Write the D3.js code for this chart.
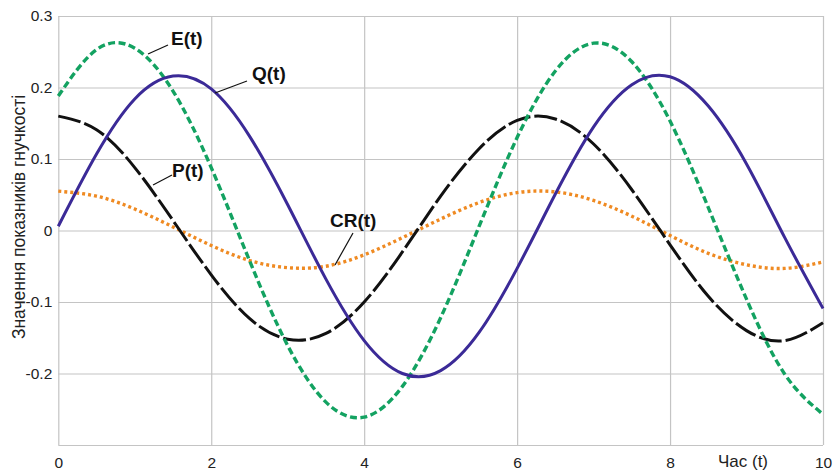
<!DOCTYPE html>
<html>
<head>
<meta charset="utf-8">
<script src="https://cdn.jsdelivr.net/npm/d3@7"></script>
<style>
  html, body { margin: 0; padding: 0; background: #ffffff; }
  svg { display: block; font-family: "Liberation Sans", Arial, sans-serif; }
</style>
</head>
<body>
<svg id="chart" width="837" height="470"></svg>
<script>
// ---- data ----
const tValues = [0,0.5,1,1.5,2,2.5,3,3.5,4,4.5,5,5.5,6,6.5,7,7.5,8,8.5,9,9.5,10];
const eValues = [0.188,0.253,0.255,0.195,0.088,-0.042,-0.161,-0.240,-0.261,-0.218,-0.122,0.005,0.130,0.223,0.262,0.236,0.153,0.032,-0.096,-0.201,-0.257];
const qValues = [0.006,0.107,0.184,0.216,0.198,0.132,0.036,-0.068,-0.154,-0.200,-0.196,-0.143,-0.053,0.051,0.145,0.204,0.215,0.174,0.093,-0.010,-0.109];
const pValues = [0.160,0.141,0.088,0.014,-0.062,-0.123,-0.152,-0.144,-0.100,-0.030,0.048,0.114,0.154,0.156,0.121,0.057,-0.020,-0.092,-0.140,-0.154,-0.129];
const crValues = [0.055,0.048,0.030,0.005,-0.021,-0.042,-0.052,-0.050,-0.034,-0.010,0.016,0.039,0.053,0.054,0.042,0.020,-0.007,-0.032,-0.048,-0.053,-0.044];
const xTicks = [0,2,4,6,8,10];
const yTicks = [-0.2,-0.1,0,0.1,0.2,0.3];
const yGrid = [-0.3,-0.2,-0.1,0,0.1,0.2,0.3];
const seriesNames = ["E(t)","Q(t)","P(t)","CR(t)"];
const xTitle = "Час (t)";
const yTitle = "Значення показників гнучкості";

// ---- layout ----
const svg = d3.select("#chart");
const W = 837, H = 470;
const m = {left: 58.3, right: 837-823, top: 16, bottom: 470-445};
const x = d3.scaleLinear().domain([0,10]).range([m.left, W-m.right]);
const y = d3.scaleLinear().domain([-0.3,0.3]).range([H-m.bottom, m.top]);
const gridColor = "#c4c4c4";

// grid
svg.append("g").attr("transform", `translate(0,${H-m.bottom})`)
  .call(d3.axisBottom(x).tickValues(xTicks).tickSize(-(H-m.bottom-m.top)).tickFormat(""))
  .call(g => g.select(".domain").remove())
  .call(g => g.selectAll("line").attr("stroke", gridColor).attr("stroke-width", 1.2));
svg.append("g").attr("transform", `translate(${m.left},0)`)
  .call(d3.axisLeft(y).tickValues(yGrid).tickSize(-(W-m.right-m.left)).tickFormat(""))
  .call(g => g.select(".domain").remove())
  .call(g => g.selectAll("line").attr("stroke", gridColor).attr("stroke-width", 1.2));

// tick labels
svg.append("g").attr("transform", `translate(${m.left},0)`)
  .call(d3.axisLeft(y).tickValues(yTicks).tickSize(0).tickPadding(6).tickFormat(d => d === 0 ? "0" : d3.format(".1f")(d).replace("−","-")))
  .call(g => g.select(".domain").remove())
  .call(g => g.selectAll("text").attr("font-size", 15.5).attr("fill", "#222").attr("font-family", "Liberation Sans, Arial, sans-serif"));
svg.append("g").attr("transform", `translate(0,${H-m.bottom})`)
  .call(d3.axisBottom(x).tickValues(xTicks).tickSize(0).tickPadding(12).tickFormat(d3.format("d")))
  .call(g => g.select(".domain").remove())
  .call(g => g.selectAll("text").attr("font-size", 15.5).attr("fill", "#222").attr("font-family", "Liberation Sans, Arial, sans-serif"));

// titles
svg.append("text").attr("x", 743).attr("y", 467).attr("text-anchor", "middle")
  .attr("font-size", 17).attr("fill", "#222").text(xTitle);
svg.append("text").attr("transform", `translate(25,217) rotate(-90)`).attr("text-anchor", "middle")
  .attr("font-size", 17.5).attr("fill", "#222").text(yTitle);

// curves
const line = d3.line().x(d => x(d[0])).y(d => y(d[1])).curve(d3.curveNatural);
const mk = vals => tValues.map((t,i) => [t, vals[i]]);
const styles = [
  {vals: crValues, color: "#ef8a22", dash: "3,3", width: 3.4},
  {vals: pValues, color: "#111111", dash: "23,4", width: 3},
  {vals: eValues, color: "#13a261", dash: "7,3.5", width: 3.4},
  {vals: qValues, color: "#3b2a97", dash: null, width: 3},
];
styles.forEach(s => {
  const p = svg.append("path").datum(mk(s.vals)).attr("d", line)
    .attr("fill", "none").attr("stroke", s.color).attr("stroke-width", s.width);
  if (s.dash) p.attr("stroke-dasharray", s.dash);
});

// labels with leader lines
const labels = [
  {text: seriesNames[0], x1: 148, y1: 54, x2: 168, y2: 45, tx: 171, ty: 45},
  {text: seriesNames[1], x1: 215, y1: 93, x2: 247, y2: 81, tx: 252, ty: 80},
  {text: seriesNames[2], x1: 153, y1: 185, x2: 172, y2: 175, tx: 172, ty: 177},
  {text: seriesNames[3], x1: 335, y1: 265, x2: 353, y2: 233, tx: 330, ty: 227},
];
labels.forEach(l => {
  svg.append("line").attr("x1", l.x1).attr("y1", l.y1).attr("x2", l.x2).attr("y2", l.y2)
    .attr("stroke", "#111").attr("stroke-width", 1.2);
  svg.append("text").attr("x", l.tx).attr("y", l.ty).attr("font-size", 19).attr("font-weight", "bold")
    .attr("fill", "#111").text(l.text);
});
</script>
</body>
</html>
